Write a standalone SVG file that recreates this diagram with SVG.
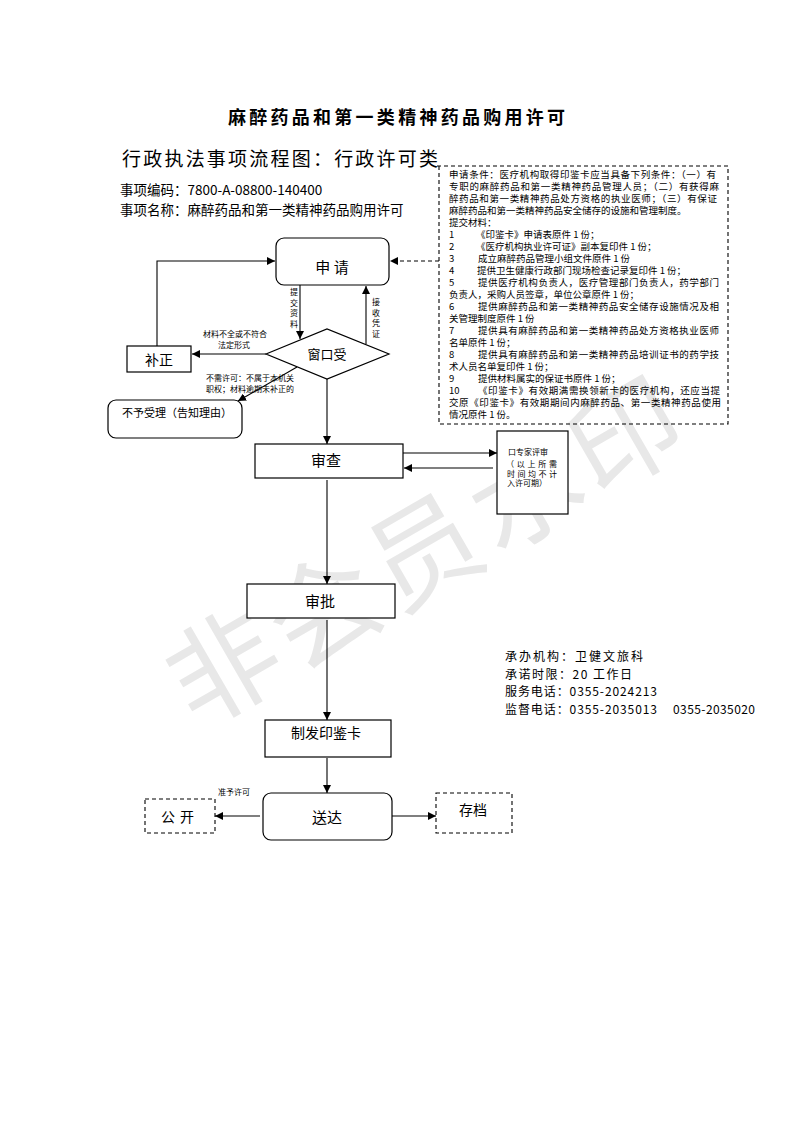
<svg xmlns="http://www.w3.org/2000/svg" width="793" height="1122" viewBox="0 0 793 1122">
<style>
text{font-family:"Noto Sans CJK SC","Liberation Sans",sans-serif;fill:#000}
.box{fill:#fff;stroke:#000;stroke-width:1.2}
.dbox{fill:none;stroke:#000;stroke-width:1.1;stroke-dasharray:4,3}
.ln{fill:none;stroke:#000;stroke-width:1.1}
.dl{fill:none;stroke:#000;stroke-width:1.1;stroke-dasharray:4,3}
.req{font-size:9.5px}
.sm{font-size:8px}
.node{font-size:14px;text-anchor:middle}
.info{font-size:13.5px}
.info2{font-size:12px}
</style>
<defs>
<marker id="ah" viewBox="0 0 10 10" refX="10" refY="5" markerWidth="8" markerHeight="8" markerUnits="userSpaceOnUse" orient="auto">
<path d="M0,0 L10,5 L0,10 z" fill="#000"/>
</marker>
</defs>
<rect width="793" height="1122" fill="#fff"/>

<text x="427" y="590" transform="rotate(-30 427 550)" text-anchor="middle" style="font-size:110px;fill:#e8e8e8" letter-spacing="6">非会员水印</text>

<g id="header">
<text x="228" y="124" textLength="337" lengthAdjust="spacing" style="font-size:18px;font-weight:bold">麻醉药品和第一类精神药品购用许可</text>
<text x="122" y="166" textLength="316" lengthAdjust="spacing" style="font-size:19px">行政执法事项流程图：行政许可类</text>
<text x="120" y="195" class="info">事项编码：7800-A-08800-140400</text>
<text x="120" y="215" class="info">事项名称：麻醉药品和第一类精神药品购用许可</text>
</g>

<g id="requirements">
<path class="dbox" d="M437,166 H728 V424 H439 V166"/>
<text class="req" x="449" y="178" textLength="267" lengthAdjust="spacing">申请条件：医疗机构取得印鉴卡应当具备下列条件：（一）有</text>
<text class="req" x="449" y="190" textLength="270" lengthAdjust="spacing">专职的麻醉药品和第一类精神药品管理人员；（二）有获得麻</text>
<text class="req" x="449" y="202" textLength="268" lengthAdjust="spacing">醉药品和第一类精神药品处方资格的执业医师；（三）有保证</text>
<text class="req" x="449" y="214">麻醉药品和第一类精神药品安全储存的设施和管理制度。</text>
<text class="req" x="449" y="226">提交材料：</text>
<text class="req" x="449" y="238">1</text><text class="req" x="476" y="238">《印鉴卡》申请表原件 1 份；</text>
<text class="req" x="449" y="250">2</text><text class="req" x="476" y="250">《医疗机构执业许可证》副本复印件 1 份；</text>
<text class="req" x="449" y="262">3</text><text class="req" x="478" y="262">成立麻醉药品管理小组文件原件 1 份</text>
<text class="req" x="449" y="274">4</text><text class="req" x="477" y="274">提供卫生健康行政部门现场检查记录复印件 1 份；</text>
<text class="req" x="449" y="286">5</text><text class="req" x="478" y="286" textLength="241" lengthAdjust="spacing">提供医疗机构负责人，医疗管理部门负责人，药学部门</text>
<text class="req" x="449" y="298">负责人，采购人员签章，单位公章原件 1 份；</text>
<text class="req" x="449" y="310">6</text><text class="req" x="478" y="310" textLength="241" lengthAdjust="spacing">提供麻醉药品和第一类精神药品安全储存设施情况及相</text>
<text class="req" x="449" y="322">关管理制度原件 1 份</text>
<text class="req" x="449" y="334">7</text><text class="req" x="478" y="334" textLength="241" lengthAdjust="spacing">提供具有麻醉药品和第一类精神药品处方资格执业医师</text>
<text class="req" x="449" y="346">名单原件 1 份；</text>
<text class="req" x="449" y="358">8</text><text class="req" x="478" y="358" textLength="241" lengthAdjust="spacing">提供具有麻醉药品和第一类精神药品培训证书的药学技</text>
<text class="req" x="449" y="370">术人员名单复印件 1 份；</text>
<text class="req" x="449" y="382">9</text><text class="req" x="478" y="382">提供材料属实的保证书原件 1 份；</text>
<text class="req" x="449" y="394">10</text><text class="req" x="478" y="394" textLength="242" lengthAdjust="spacing">《印鉴卡》有效期满需换领新卡的医疗机构，还应当提</text>
<text class="req" x="449" y="406" textLength="272" lengthAdjust="spacing">交原《印鉴卡》有效期期间内麻醉药品、第一类精神药品使用</text>
<text class="req" x="449" y="418">情况原件 1 份。</text>
</g>

<g id="connectors">
<path class="ln" d="M157,346 V261 H275" marker-end="url(#ah)"/>
<path class="dl" d="M439,261 H390" marker-end="url(#ah)"/>
<path class="ln" d="M300,285 V339" marker-end="url(#ah)"/>
<path class="ln" d="M366,344 V286" marker-end="url(#ah)"/>
<path class="ln" d="M266,354 H192" marker-end="url(#ah)"/>
<path class="ln" d="M297,367 L238,401" marker-end="url(#ah)"/>
<path class="ln" d="M327,379 V444" marker-end="url(#ah)"/>
<path class="ln" d="M403,453 H497" marker-end="url(#ah)"/>
<path class="ln" d="M493,468 H404" marker-end="url(#ah)"/>
<path class="ln" d="M327,480 V584" marker-end="url(#ah)"/>
<path class="ln" d="M327,620 V720" marker-end="url(#ah)"/>
<path class="ln" d="M327,758 V793" marker-end="url(#ah)"/>
<path class="ln" d="M260,816 H215" marker-end="url(#ah)"/>
<path class="ln" d="M392,816 H436" marker-end="url(#ah)"/>
<text class="sm" text-anchor="middle"><tspan x="294" y="295">提</tspan><tspan x="294" y="305.5">交</tspan><tspan x="294" y="316">资</tspan><tspan x="294" y="326.5">料</tspan></text>
<text class="sm" text-anchor="middle"><tspan x="376" y="305">接</tspan><tspan x="376" y="315.5">收</tspan><tspan x="376" y="326">凭</tspan><tspan x="376" y="336.5">证</tspan></text>
<text class="sm" x="235" y="337" text-anchor="middle">材料不全或不符合</text>
<text class="sm" x="234" y="348" text-anchor="middle">法定形式</text>
<text class="sm" x="206" y="381">不需许可：不属于本机关</text>
<text class="sm" x="206" y="392">职权；材料逾期未补正的</text>
<text class="sm" x="218" y="795">准予许可</text>
</g>

<g id="n-apply">
<rect class="box" x="276" y="238" width="113" height="47" rx="8"/>
<text class="node" x="332" y="273" style="font-size:15px">申 请</text>
</g>
<g id="n-buzheng">
<rect class="box" x="127" y="346" width="64" height="26"/>
<text class="node" x="159" y="365">补正</text>
</g>
<g id="n-window">
<path class="box" d="M266,354 L327,329 L389,354 L327,379 Z"/>
<text class="node" x="327" y="359" style="font-size:13px">窗口受</text>
</g>
<g id="n-reject">
<rect class="box" x="108" y="400" width="134" height="38" rx="8"/>
<text x="122" y="417" style="font-size:11px">不予受理（告知理由）</text>
</g>
<g id="n-review">
<rect class="box" x="255" y="444" width="148" height="34"/>
<text class="node" x="326" y="466" style="font-size:15px">审查</text>
</g>
<g id="n-expert">
<rect class="box" x="497" y="431" width="71" height="83"/>
<text class="sm" x="508" y="455">口专家评审</text>
<text class="sm" x="506" y="467" textLength="51" lengthAdjust="spacing">（以上所需</text>
<text class="sm" x="507" y="477" textLength="50" lengthAdjust="spacing">时间均不计</text>
<text class="sm" x="507" y="486">入许可期）</text>
</g>
<g id="n-approve">
<rect class="box" x="247" y="584" width="148" height="34"/>
<text class="node" x="320" y="607" style="font-size:15px">审批</text>
</g>
<g id="n-issue">
<rect class="box" x="265" y="720" width="126" height="37"/>
<text class="node" x="326" y="738">制发印鉴卡</text>
</g>
<g id="n-deliver">
<rect class="box" x="263" y="793" width="129" height="47" rx="8"/>
<text class="node" x="327" y="823" style="font-size:15px">送达</text>
</g>
<g id="n-public">
<rect class="dbox" x="145" y="799" width="70" height="34"/>
<text class="node" x="180" y="822" letter-spacing="5">公开</text>
</g>
<g id="n-archive">
<rect class="dbox" x="436" y="793" width="76" height="40"/>
<text class="node" x="473" y="815">存档</text>
</g>

<g id="info">
<text class="info2" x="505" y="661" textLength="138" lengthAdjust="spacing">承办机构：卫健文旅科</text>
<text class="info2" x="505" y="678.5" textLength="127" lengthAdjust="spacing">承诺时限：20 工作日</text>
<text class="info2" x="505" y="696" textLength="152" lengthAdjust="spacing">服务电话：0355-2024213</text>
<text class="info2" x="505" y="713.5" textLength="152" lengthAdjust="spacing">监督电话：0355-2035013</text>
<text class="info2" x="673" y="713.5" textLength="82" lengthAdjust="spacing">0355-2035020</text>
</g>
</svg>
